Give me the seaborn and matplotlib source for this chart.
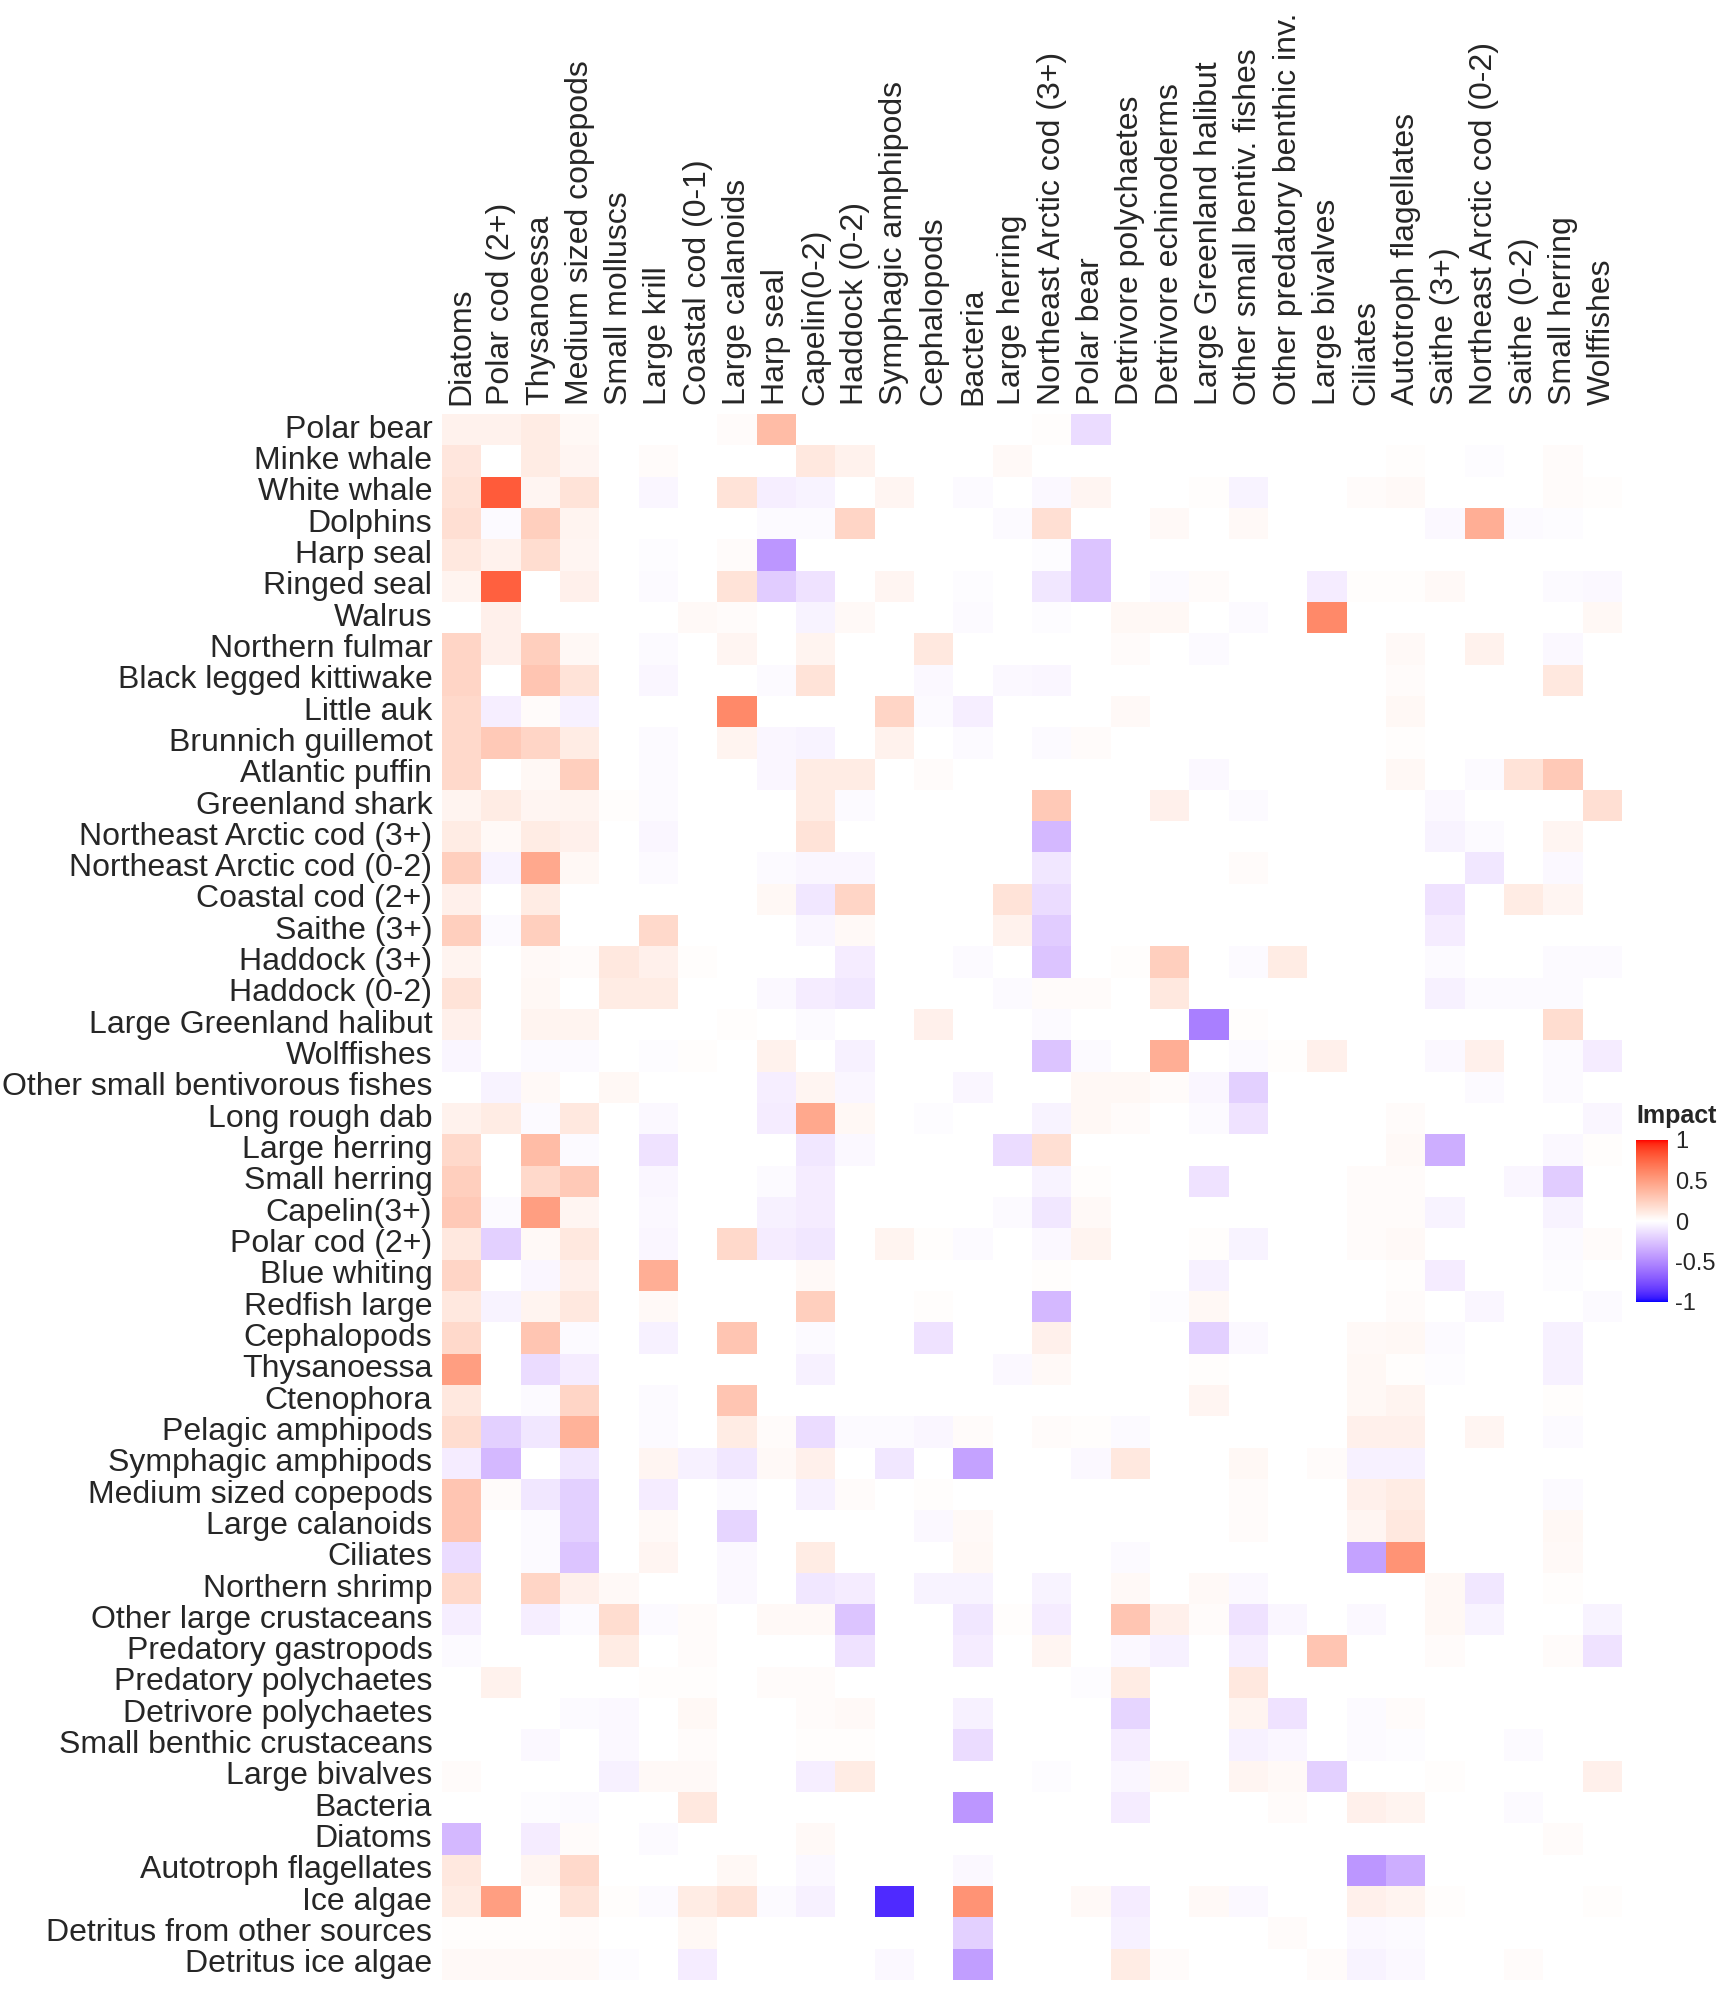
import numpy as np
import pandas as pd
import matplotlib
matplotlib.use("Agg")
import matplotlib.pyplot as plt
from matplotlib.colors import ListedColormap
import seaborn as sns

# prey / impacted groups (columns) and predators / impacting groups (rows)
prey = ['Diatoms', 'Polar cod (2+)', 'Thysanoessa', 'Medium sized copepods',
        'Small molluscs', 'Large krill', 'Coastal cod (0-1)', 'Large calanoids',
        'Harp seal', 'Capelin(0-2)', 'Haddock (0-2)', 'Symphagic amphipods',
        'Cephalopods', 'Bacteria', 'Large herring', 'Northeast Arctic cod (3+)',
        'Polar bear', 'Detrivore polychaetes', 'Detrivore echinoderms',
        'Large Greenland halibut', 'Other small bentiv. fishes',
        'Other predatory benthic inv.', 'Large bivalves', 'Ciliates',
        'Autotroph flagellates', 'Saithe (3+)', 'Northeast Arctic cod (0-2)',
        'Saithe (0-2)', 'Small herring', 'Wolffishes']

groups = ['Polar bear', 'Minke whale', 'White whale', 'Dolphins', 'Harp seal',
          'Ringed seal', 'Walrus', 'Northern fulmar', 'Black legged kittiwake',
          'Little auk', 'Brunnich guillemot', 'Atlantic puffin', 'Greenland shark',
          'Northeast Arctic cod (3+)', 'Northeast Arctic cod (0-2)',
          'Coastal cod (2+)', 'Saithe (3+)', 'Haddock (3+)', 'Haddock (0-2)',
          'Large Greenland halibut', 'Wolffishes', 'Other small bentivorous fishes',
          'Long rough dab', 'Large herring', 'Small herring', 'Capelin(3+)',
          'Polar cod (2+)', 'Blue whiting', 'Redfish large', 'Cephalopods',
          'Thysanoessa', 'Ctenophora', 'Pelagic amphipods', 'Symphagic amphipods',
          'Medium sized copepods', 'Large calanoids', 'Ciliates', 'Northern shrimp',
          'Other large crustaceans', 'Predatory gastropods', 'Predatory polychaetes',
          'Detrivore polychaetes', 'Small benthic crustaceans', 'Large bivalves',
          'Bacteria', 'Diatoms', 'Autotroph flagellates', 'Ice algae',
          'Detritus from other sources', 'Detritus ice algae']

# impact values, one row per group
impact = [
    [.07, .07, .10, .04, 0, 0, 0, .02, .35, 0, 0, 0, 0, 0, 0, .01, -.15, 0, 0, 0, 0, 0, 0, 0, 0, 0, 0, 0, 0, 0],
    [.13, 0, .10, .05, 0, .02, 0, 0, 0, .12, .07, 0, 0, 0, .03, 0, 0, 0, 0, 0, 0, 0, 0, 0, .01, 0, -.01, 0, .02, 0],
    [.15, .80, .05, .15, 0, -.04, 0, .15, -.07, -.05, 0, .05, 0, -.02, 0, -.03, .05, 0, 0, .01, -.05, 0, 0, .02, .03, 0, 0, 0, .02, .01],
    [.17, -.02, .25, .06, 0, 0, 0, 0, -.02, -.02, .22, 0, 0, 0, -.02, .17, 0, 0, .03, 0, .03, 0, 0, 0, 0, -.03, .42, -.02, -.01, 0],
    [.12, .07, .18, .05, 0, -.01, 0, .02, -.45, 0, 0, 0, 0, 0, 0, -.01, -.25, 0, 0, 0, 0, 0, 0, 0, 0, 0, 0, 0, 0, 0],
    [.06, .78, 0, .08, 0, -.02, 0, .15, -.22, -.12, 0, .05, 0, -.01, 0, -.10, -.25, 0, -.02, .02, 0, 0, -.08, .01, .01, .03, 0, 0, -.02, -.03],
    [0, .08, 0, 0, 0, 0, .03, .02, 0, -.05, .03, 0, 0, -.02, 0, -.01, 0, .04, .04, 0, -.02, 0, .60, 0, 0, 0, 0, 0, 0, .04],
    [.22, .08, .25, .04, 0, -.02, 0, .05, 0, .06, 0, 0, .12, 0, 0, 0, 0, .02, 0, -.02, 0, 0, 0, 0, .03, 0, .07, 0, -.03, 0],
    [.22, 0, .30, .15, 0, -.04, 0, 0, -.02, .15, 0, 0, -.03, 0, -.03, -.04, 0, 0, 0, 0, 0, 0, 0, 0, .02, 0, 0, 0, .12, 0],
    [.20, -.07, .02, -.06, 0, 0, 0, .60, 0, 0, 0, .22, -.02, -.07, 0, 0, 0, .03, 0, 0, 0, 0, 0, 0, .04, 0, 0, 0, 0, 0],
    [.20, .28, .22, .10, 0, -.02, 0, .06, -.04, -.05, 0, .07, 0, -.02, 0, -.02, .02, 0, 0, 0, 0, 0, 0, 0, .01, 0, 0, 0, 0, 0],
    [.20, 0, .04, .25, 0, -.02, 0, 0, -.04, .10, .10, 0, .02, 0, 0, 0, 0, 0, 0, -.03, 0, 0, 0, 0, .04, 0, -.02, .15, .28, 0],
    [.06, .10, .05, .06, .01, -.02, 0, 0, 0, .10, -.02, 0, 0, 0, 0, .28, 0, 0, .08, 0, -.02, 0, 0, 0, 0, -.03, 0, 0, 0, .17],
    [.10, .03, .10, .08, 0, -.04, 0, 0, 0, .15, 0, 0, 0, 0, 0, -.30, 0, 0, 0, 0, 0, 0, 0, 0, 0, -.05, -.02, 0, .05, 0],
    [.25, -.05, .45, .04, 0, -.02, 0, 0, -.02, -.04, -.04, 0, 0, 0, 0, -.10, 0, 0, 0, 0, .02, 0, 0, 0, 0, 0, -.10, 0, -.03, 0],
    [.08, 0, .10, 0, 0, 0, 0, 0, .04, -.10, .22, 0, 0, 0, .15, -.15, 0, 0, 0, 0, 0, 0, 0, 0, 0, -.12, 0, .10, .05, 0],
    [.25, -.02, .25, 0, 0, .20, 0, 0, 0, -.04, .03, 0, 0, 0, .07, -.22, 0, 0, 0, 0, 0, 0, 0, 0, 0, -.08, 0, 0, 0, 0],
    [.06, 0, .03, .02, .12, .08, .01, 0, 0, 0, -.08, 0, 0, -.02, 0, -.25, 0, .01, .25, 0, -.02, .10, 0, 0, 0, -.02, 0, 0, -.02, -.02],
    [.15, 0, .04, 0, .10, .10, 0, 0, -.03, -.08, -.10, 0, 0, 0, -.02, .02, .02, 0, .12, 0, 0, 0, 0, 0, 0, -.06, -.02, -.02, -.02, 0],
    [.08, 0, .06, .06, 0, 0, 0, .01, 0, -.02, 0, 0, .08, 0, 0, -.02, 0, 0, 0, -.55, .01, 0, 0, 0, 0, 0, 0, 0, .18, 0],
    [-.04, 0, -.02, -.02, 0, -.01, .01, 0, .07, 0, -.06, 0, 0, 0, 0, -.25, -.02, 0, .42, 0, -.02, .01, .08, 0, 0, -.03, .08, 0, -.02, -.08],
    [0, -.05, .03, 0, .04, 0, 0, 0, -.07, .05, -.04, 0, 0, -.04, 0, 0, .04, .04, .02, -.04, -.20, 0, 0, 0, 0, 0, -.02, 0, -.02, 0],
    [.07, .10, -.02, .12, 0, -.03, 0, 0, -.08, .45, .04, 0, -.01, 0, 0, -.05, .04, .02, 0, -.02, -.12, 0, 0, 0, .02, 0, 0, 0, 0, -.04],
    [.20, 0, .35, -.02, 0, -.12, 0, 0, 0, -.10, -.03, 0, 0, 0, -.15, .17, 0, 0, 0, 0, 0, 0, 0, 0, .03, -.35, 0, 0, -.03, .01],
    [.25, 0, .20, .28, 0, -.04, 0, 0, -.02, -.08, 0, 0, 0, 0, 0, -.05, .01, 0, 0, -.12, 0, 0, 0, .02, .02, 0, 0, -.04, -.22, 0],
    [.28, -.02, .50, .05, 0, -.03, 0, 0, -.06, -.08, 0, 0, 0, 0, -.02, -.10, .03, 0, 0, 0, 0, 0, 0, .02, .02, -.05, 0, 0, -.05, 0],
    [.12, -.20, .03, .12, 0, -.04, 0, .20, -.08, -.10, 0, .06, .01, -.02, 0, -.03, .06, 0, 0, .01, -.05, 0, 0, .02, .03, 0, 0, 0, -.02, .02],
    [.22, 0, -.04, .08, 0, .42, 0, 0, 0, .03, 0, 0, 0, 0, 0, .01, 0, 0, 0, -.06, 0, 0, 0, 0, .01, -.08, 0, 0, -.01, 0],
    [.12, -.05, .06, .12, 0, .03, 0, 0, 0, .25, 0, 0, .01, 0, 0, -.30, 0, 0, -.01, .04, 0, 0, 0, 0, .02, 0, -.04, 0, 0, -.02],
    [.20, 0, .30, -.02, 0, -.06, 0, .30, 0, -.02, 0, 0, -.12, 0, 0, .08, 0, 0, 0, -.20, -.03, 0, 0, .03, .04, -.02, 0, 0, -.06, 0],
    [.50, 0, -.15, -.08, 0, 0, 0, 0, 0, -.06, 0, 0, 0, 0, -.03, .03, 0, 0, 0, .01, 0, 0, 0, .04, .01, -.01, 0, 0, -.06, 0],
    [.12, 0, -.02, .22, 0, -.02, 0, .30, 0, 0, 0, 0, 0, 0, 0, 0, 0, 0, 0, .05, 0, 0, 0, .04, .06, 0, 0, 0, .01, 0],
    [.18, -.20, -.10, .40, 0, -.02, 0, .10, .02, -.15, -.02, -.02, -.04, .02, 0, .02, .01, -.02, 0, 0, 0, 0, 0, .08, .08, 0, .05, 0, -.02, 0],
    [-.08, -.30, 0, -.10, 0, .05, -.06, -.10, .03, .08, 0, -.10, 0, -.40, 0, 0, -.03, .12, 0, 0, .04, 0, .02, -.06, -.06, 0, 0, 0, 0, 0],
    [.30, .02, -.10, -.20, 0, -.08, 0, -.02, 0, -.06, .02, 0, .01, 0, 0, 0, 0, 0, 0, 0, .02, 0, 0, .08, .10, 0, 0, 0, -.02, 0],
    [.30, 0, -.02, -.20, 0, .03, 0, -.18, 0, 0, 0, 0, -.03, .03, 0, 0, 0, 0, 0, 0, .02, 0, 0, .05, .12, 0, 0, 0, .04, 0],
    [-.15, 0, -.02, -.25, 0, .05, 0, -.03, 0, .10, 0, 0, 0, .04, 0, 0, 0, -.02, 0, 0, 0, 0, 0, -.40, .55, 0, 0, 0, .03, 0],
    [.20, 0, .22, .08, .03, 0, 0, -.03, 0, -.10, -.08, 0, -.05, -.05, 0, -.05, 0, .03, 0, .03, -.03, 0, 0, 0, 0, .04, -.10, 0, .01, 0],
    [-.07, 0, -.07, -.02, .18, -.02, .02, 0, .03, .03, -.25, 0, 0, -.10, .01, -.08, 0, .30, .08, .02, -.12, -.04, 0, -.03, 0, .04, -.05, 0, 0, -.05],
    [-.02, 0, 0, 0, .10, 0, .02, 0, 0, 0, -.12, 0, 0, -.08, 0, .05, 0, -.03, -.06, 0, -.07, 0, .30, 0, 0, .02, 0, 0, .02, -.12],
    [0, .07, 0, 0, 0, .01, .01, 0, .02, .02, 0, 0, 0, 0, 0, 0, -.01, .10, 0, 0, .12, 0, 0, 0, 0, 0, 0, 0, 0, 0],
    [0, 0, 0, -.02, -.03, 0, .04, 0, 0, .02, .03, 0, 0, -.06, 0, 0, 0, -.18, 0, 0, .06, -.12, 0, -.02, .02, 0, 0, 0, 0, 0],
    [0, 0, -.03, 0, -.03, 0, .02, 0, 0, .01, .01, 0, 0, -.15, 0, 0, 0, -.08, 0, 0, -.06, -.04, 0, -.02, -.01, 0, 0, -.02, 0, 0],
    [.02, 0, 0, 0, -.06, .03, .03, 0, 0, -.07, .10, 0, 0, 0, 0, -.01, 0, -.04, .03, 0, .05, .03, -.20, 0, 0, .01, 0, 0, 0, .08],
    [0, 0, -.01, -.02, 0, 0, .12, 0, 0, 0, 0, 0, 0, -.45, 0, 0, 0, -.08, 0, 0, 0, .02, 0, .08, .06, 0, 0, -.02, 0, 0],
    [-.30, 0, -.08, .02, 0, -.02, 0, 0, 0, .03, 0, 0, 0, 0, 0, 0, 0, 0, 0, 0, 0, 0, 0, 0, 0, 0, 0, 0, .02, 0],
    [.12, 0, .05, .20, 0, 0, 0, .04, 0, -.03, 0, 0, 0, -.03, 0, 0, 0, 0, 0, 0, 0, 0, 0, -.45, -.35, 0, 0, 0, 0, 0],
    [.10, .50, .01, .15, .01, -.02, .10, .15, -.02, -.06, 0, -.90, 0, .55, 0, 0, .03, -.08, 0, .03, -.03, 0, 0, .08, .06, .01, 0, 0, 0, .01],
    [.01, .01, .01, .02, 0, 0, .04, 0, 0, 0, 0, 0, 0, -.20, 0, 0, 0, -.06, 0, 0, 0, .02, 0, -.03, -.02, 0, 0, 0, 0, 0],
    [.03, .03, .03, .03, -.01, 0, -.08, 0, 0, 0, 0, -.03, 0, -.42, 0, 0, 0, .10, .02, 0, 0, 0, .02, -.05, -.03, 0, 0, .02, 0, 0],
]

df = pd.DataFrame(impact, index=groups, columns=prey)


# blue - white - red diverging palette, interpolated in Lab space
def lab_to_rgb(lab):
    L, a, b = lab[:, 0], lab[:, 1], lab[:, 2]
    fy = (L + 16) / 116
    fx = fy + a / 500
    fz = fy - b / 200
    d = 6 / 29

    def finv(t):
        return np.where(t > d, t ** 3, 3 * d ** 2 * (t - 4 / 29))

    xyz = np.stack([0.95047 * finv(fx), finv(fy), 1.08883 * finv(fz)])
    m = np.array([[3.2406, -1.5372, -0.4986],
                  [-0.9689, 1.8758, 0.0415],
                  [0.0557, -0.2040, 1.0570]])
    lin = np.clip(m @ xyz, 0, 1)
    rgb = np.where(lin <= 0.0031308, 12.92 * lin, 1.055 * lin ** (1 / 2.4) - 0.055)
    return np.clip(rgb.T, 0, 1)


white = np.array([100.0, 0, 0])
red = np.array([53.24, 80.09, 67.20])
blue = np.array([32.30, 79.19, -107.86])
t = np.linspace(-1, 1, 511)
lab = np.array([white + (red - white) * v if v >= 0 else white + (blue - white) * (-v) for v in t])
cmap = ListedColormap(lab_to_rgb(lab))

sns.set_style("white")
plt.rcParams['font.family'] = ['Liberation Sans', 'DejaVu Sans']

W, H = 1732, 1996
fig = plt.figure(figsize=(W / 100, H / 100), dpi=100)
ax = fig.add_axes([442 / W, 1 - 1980 / H, 1180 / W, 1566 / H])
cax = fig.add_axes([1636 / W, 1 - 1302 / H, 32 / W, 162 / H])

sns.heatmap(df, cmap=cmap, vmin=-1, vmax=1, ax=ax, cbar_ax=cax,
            xticklabels=True, yticklabels=True)

ax.xaxis.tick_top()
ax.set_xlabel('')
ax.set_ylabel('')
ax.set_xticklabels(prey, rotation=90, ha='center', va='bottom', fontsize=23)
ax.set_yticklabels(groups, rotation=0, ha='right', va='center', fontsize=23)
ax.tick_params(axis='x', length=0, pad=6.5)
ax.tick_params(axis='y', length=0, pad=7)

cbar = ax.collections[0].colorbar
cbar.outline.set_visible(False)
cbar.set_ticks([-1, -0.5, 0, 0.5, 1])
cbar.set_ticklabels(['-1', '-0.5', '0', '0.5', '1'])
cbar.ax.tick_params(direction='in', length=6, width=1.5, color='white',
                    left=True, right=True, labelsize=17, pad=5)
fig.text(1636 / W, 1 - 1123 / H, 'Impact', fontsize=18, fontweight='bold',
         ha='left', va='baseline')

fig.savefig('out.png', dpi=100)
